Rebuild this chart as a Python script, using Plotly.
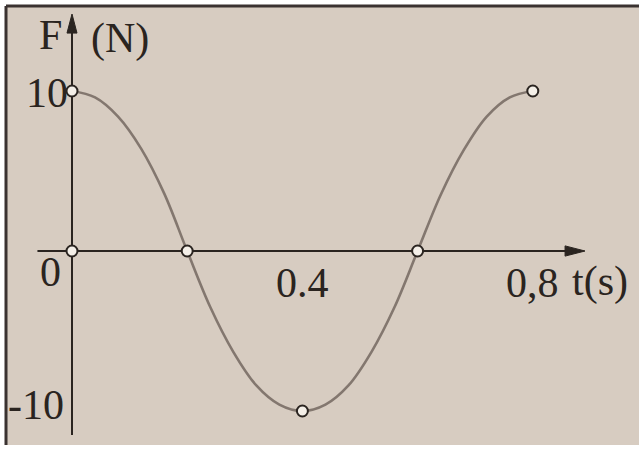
import plotly.graph_objects as go

# Force F (N) against time t (s): one full period of the oscillation
t_curve = [0, 0.04, 0.08, 0.12, 0.16, 0.2, 0.24, 0.28, 0.32, 0.36, 0.4,
           0.44, 0.48, 0.52, 0.56, 0.6, 0.64, 0.68, 0.72, 0.76, 0.8]
F_curve = [10, 9.6, 8.4, 6.4, 3.6, 0, -3.5, -6.3, -8.4, -9.6, -10,
           -9.6, -8.4, -6.3, -3.5, 0, 3.5, 6.3, 8.4, 9.6, 10]

# Marked points on the curve and on the axes
t_marks = [0, 0, 0.2, 0.4, 0.6, 0.8]
F_marks = [10, 0, 0, -10, 0, 10]

# Axis labels
y_tick_vals = [10, 0, -10]
y_tick_text = ["10", "0", "-10"]
x_tick_vals = [0.4, 0.8]
x_tick_text = ["0.4", "0,8"]

PAPER = "#d7ccc1"
INK = "#2a2420"
CURVE = "#83776f"
FONT = dict(family="Liberation Serif, Times New Roman, serif", size=42, color=INK)

X_RANGE = [-0.125, 0.984375]
Y_RANGE = [-12.4375, 15.6875]

fig = go.Figure()

fig.add_trace(go.Scatter(
    x=t_curve, y=F_curve, mode="lines",
    line=dict(color=CURVE, width=2.6, shape="spline", smoothing=1.0),
    hoverinfo="skip", showlegend=False,
))

fig.add_trace(go.Scatter(
    x=t_marks, y=F_marks, mode="markers",
    marker=dict(size=11, color="#f4efe8", line=dict(color=INK, width=2)),
    showlegend=False,
))

shapes = [
    # scanned page area with dark left and top edges
    dict(type="rect", xref="paper", yref="paper", x0=6 / 639, x1=1, y0=1 - 445 / 450, y1=1 - 6 / 450,
         fillcolor=PAPER, line=dict(width=0), layer="below"),
    dict(type="line", xref="paper", yref="paper", x0=6 / 639, x1=6 / 639, y0=1 - 445 / 450, y1=1 - 6 / 450,
         line=dict(color="#3a3230", width=3), layer="below"),
    dict(type="line", xref="paper", yref="paper", x0=6 / 639, x1=1, y0=1 - 6 / 450, y1=1 - 6 / 450,
         line=dict(color="#3a3230", width=3), layer="below"),
    # F axis
    dict(type="line", x0=0, x1=0, y0=-11.5, y1=14.0, line=dict(color=INK, width=2), layer="below"),
    dict(type="path", path="M -0.0087 13.62 L 0 14.81 L 0.0087 13.62 Z",
         fillcolor=INK, line=dict(color=INK, width=1)),
    # t axis
    dict(type="line", x0=-0.06, x1=0.87, y0=0, y1=0, line=dict(color=INK, width=2), layer="below"),
    dict(type="path", path="M 0.856 0.32 L 0.8906 0 L 0.856 -0.32 Z",
         fillcolor=INK, line=dict(color=INK, width=1)),
]

annotations = []
y_label_pos = {10: (-0.043, 9.9), 0: (-0.038, -1.3), -10: (-0.063, -9.6)}
for v, txt in zip(y_tick_vals, y_tick_text):
    x, y = y_label_pos[v]
    annotations.append(dict(x=x, y=y, text=txt, showarrow=False, font=FONT,
                            xanchor="center", yanchor="middle"))
for v, txt in zip(x_tick_vals, x_tick_text):
    annotations.append(dict(x=v, y=-2.0, text=txt, showarrow=False, font=FONT,
                            xanchor="center", yanchor="middle"))
annotations += [
    dict(x=-0.038, y=13.5, text="F", showarrow=False, font=FONT, xanchor="center", yanchor="middle"),
    dict(x=0.083, y=13.3, text="(N)", showarrow=False, font=FONT, xanchor="center", yanchor="middle"),
    dict(x=0.917, y=-1.9, text="t(s)", showarrow=False, font=FONT, xanchor="center", yanchor="middle"),
]

fig.update_layout(
    width=639, height=450,
    margin=dict(l=0, r=0, t=0, b=0),
    paper_bgcolor="white", plot_bgcolor="rgba(0,0,0,0)",
    xaxis=dict(range=X_RANGE, visible=False, fixedrange=True),
    yaxis=dict(range=Y_RANGE, visible=False, fixedrange=True),
    shapes=shapes, annotations=annotations,
    showlegend=False,
)

fig.write_html("out.html")
